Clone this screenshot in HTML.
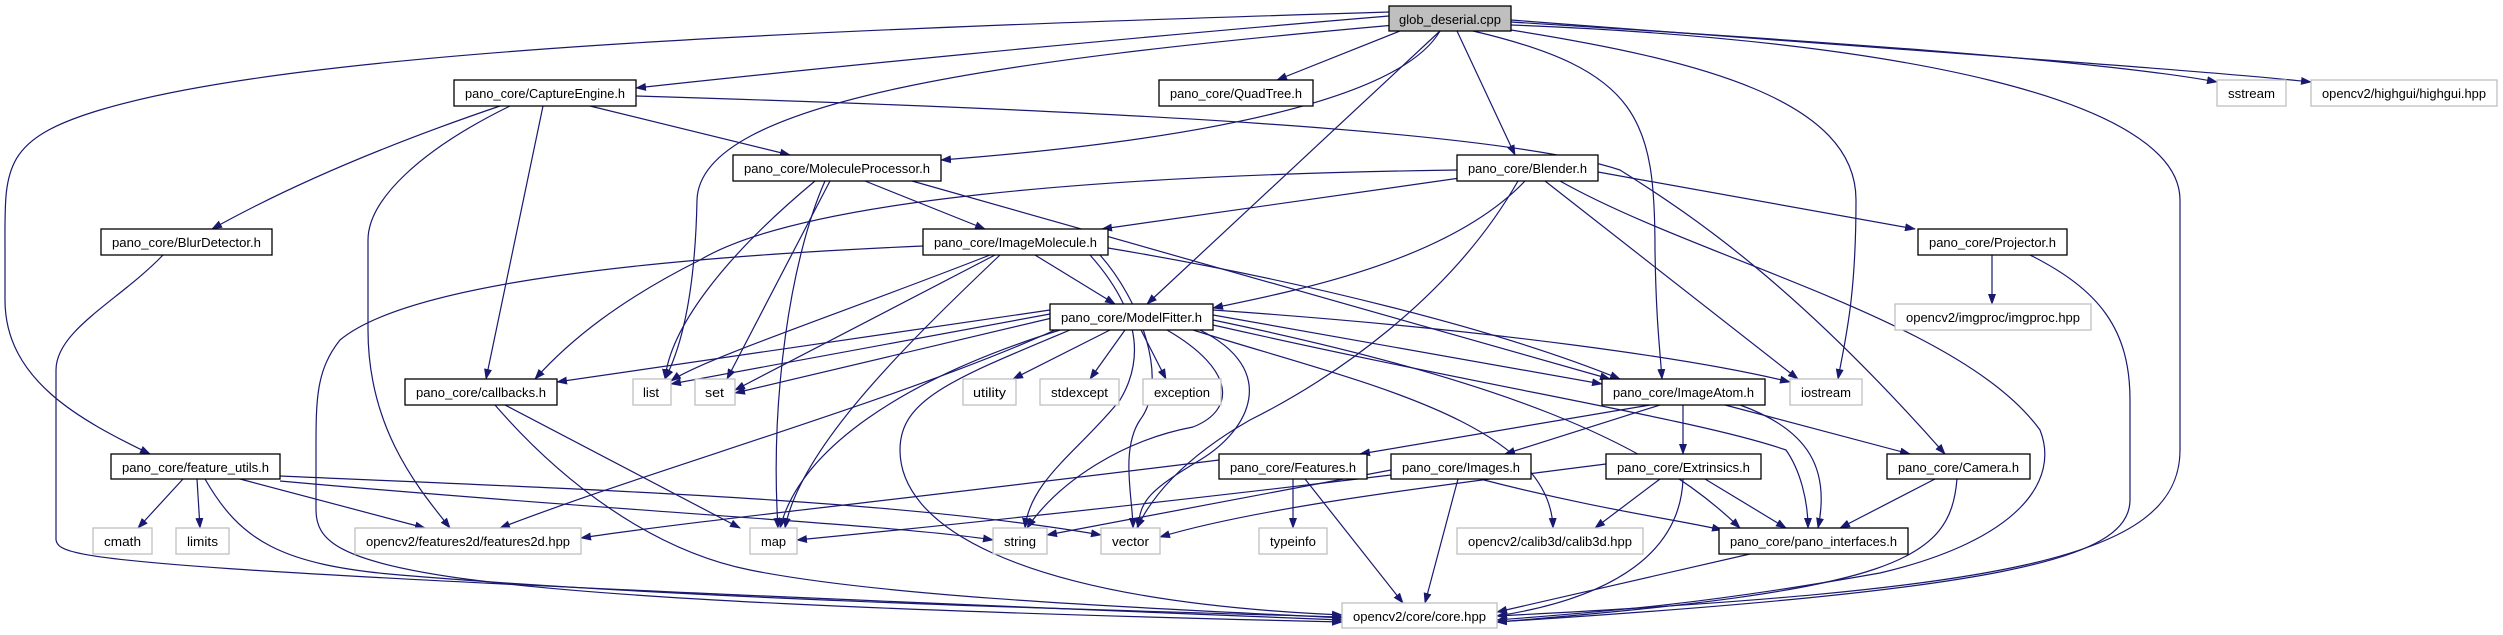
<!DOCTYPE html>
<html><head><meta charset="utf-8"><style>
html,body{margin:0;padding:0;background:#fff}
svg{display:block}
text{font-family:"Liberation Sans",sans-serif;font-size:13px;fill:#000}
.e{fill:none;stroke:#191970;stroke-width:1.2}
.n{fill:#fff;stroke:#000;stroke-width:1.3}
.g{fill:#fff;stroke:#bfbfbf;stroke-width:1.3}
</style></head><body>
<svg width="2503" height="635" viewBox="0 0 2503 635" xmlns="http://www.w3.org/2000/svg">
<defs><marker id="a" markerUnits="userSpaceOnUse" markerWidth="11" markerHeight="8" refX="10" refY="4" orient="auto"><path d="M0,0 L11,4 L0,8 z" fill="#191970"/></marker></defs>
<g class="e" marker-end="url(#a)">
<path d="M1389,16 C1100,40 800,70 636,88"/>
<path d="M1400,31 L1277,80"/>
<path d="M1440,31 C1400,100 1200,140 941,160"/>
<path d="M1395,25 C1000,60 700,100 697,200 C695,300 680,350 665,379"/>
<path d="M1440,31 L1147,304"/>
<path d="M1457,31 L1515,155"/>
<path d="M1473,31 C1640,70 1655,120 1655,250 C1656,320 1660,350 1662,379"/>
<path d="M1511,30 C1700,60 1856,100 1856,200 C1856,300 1845,340 1838,379"/>
<path d="M1511,25 C1900,40 2180,100 2180,200 L2180,450 C2180,560 2000,590 1497,616"/>
<path d="M1511,22 C1800,40 2100,60 2217,82"/>
<path d="M1511,20 C1900,50 2200,70 2311,82"/>
<path d="M1389,12 C800,30 300,50 100,110 C0,140 5,170 5,250 L5,300 C5,380 80,420 150,454"/>
<path d="M163,255 C120,300 56,330 56,370 L56,540 C60,560 90,570 1342,620"/>
<path d="M500,106 C400,140 300,180 212,229"/>
<path d="M510,106 C420,150 368,200 368,240 L368,330 C368,430 420,490 450,528"/>
<path d="M543,106 L486,379"/>
<path d="M590,106 L790,155"/>
<path d="M636,96 C1100,110 1500,130 1620,170 C1700,220 1800,290 1945,454"/>
<path d="M865,181 L985,229"/>
<path d="M815,181 C720,260 670,330 665,379"/>
<path d="M830,181 L727,379"/>
<path d="M825,181 C790,260 770,400 778,528"/>
<path d="M912,181 L1610,379"/>
<path d="M1460,178 L1102,229"/>
<path d="M1457,170 C1100,175 800,200 700,260 C620,300 570,340 535,379"/>
<path d="M1525,181 C1450,260 1300,290 1213,308"/>
<path d="M1518,181 C1450,300 1330,380 1250,420 C1180,460 1150,500 1137,528"/>
<path d="M1598,172 L1915,229"/>
<path d="M1545,181 L1798,379"/>
<path d="M1560,181 C1700,260 1960,320 2040,430 C2060,480 2020,540 1880,573 C1700,605 1600,612 1497,620"/>
<path d="M1992,255 L1992,304"/>
<path d="M2030,255 C2100,290 2130,330 2130,400 L2130,500 C2130,560 2000,590 1497,622"/>
<path d="M1035,255 L1115,304"/>
<path d="M990,255 C850,310 700,360 671,381"/>
<path d="M995,255 L735,390"/>
<path d="M1000,255 C900,350 800,450 785,528"/>
<path d="M1090,255 C1130,300 1150,350 1120,400 C1080,450 1030,480 1025,528"/>
<path d="M1100,255 C1140,300 1170,380 1140,420 C1120,450 1133,500 1133,528"/>
<path d="M1108,248 C1300,280 1500,330 1620,379"/>
<path d="M923,246 C600,260 400,290 340,340 C316,370 316,400 316,450 L316,510 C316,570 400,600 1342,622"/>
<path d="M1050,310 L557,382"/>
<path d="M1050,314 L671,384"/>
<path d="M1052,318 L735,393"/>
<path d="M1110,330 L1013,379"/>
<path d="M1125,330 L1090,379"/>
<path d="M1141,330 L1166,379"/>
<path d="M1167,330 C1236,370 1236,410 1193,427 C1124,440 1060,480 1027,528"/>
<path d="M1200,330 C1280,370 1250,430 1200,460 C1150,490 1140,500 1138,528"/>
<path d="M1060,330 C900,380 800,450 780,528"/>
<path d="M1070,330 C950,380 900,400 900,450 C900,520 1000,600 1342,615"/>
<path d="M1055,330 C900,400 650,470 500,528"/>
<path d="M1193,330 C1350,380 1550,420 1553,528"/>
<path d="M1213,315 L1602,384"/>
<path d="M1213,310 C1500,330 1700,360 1790,382"/>
<path d="M1213,320 C1500,380 1650,440 1740,528"/>
<path d="M1213,325 C1500,390 1700,420 1786,450 C1800,470 1808,500 1808,528"/>
<path d="M505,405 L740,528"/>
<path d="M495,405 C560,480 650,550 750,570 C900,600 1200,610 1342,618"/>
<path d="M183,479 L138,528"/>
<path d="M197,479 L200,528"/>
<path d="M240,479 L425,528"/>
<path d="M280,476 C600,490 900,500 1101,535"/>
<path d="M280,481 C600,510 900,525 993,540"/>
<path d="M205,479 C240,540 280,565 400,575 C700,600 1100,610 1342,617"/>
<path d="M1650,405 L1360,454"/>
<path d="M1660,405 L1505,454"/>
<path d="M1683,405 L1683,454"/>
<path d="M1725,405 L1910,454"/>
<path d="M1740,405 C1810,430 1830,470 1818,528"/>
<path d="M1219,460 C900,500 700,520 581,538"/>
<path d="M1293,479 L1293,528"/>
<path d="M1305,479 L1403,603"/>
<path d="M1391,470 L1047,535"/>
<path d="M1391,475 C1100,510 900,530 797,540"/>
<path d="M1458,479 L1425,603"/>
<path d="M1480,479 C1600,510 1680,520 1722,530"/>
<path d="M1606,464 C1400,490 1250,510 1160,537"/>
<path d="M1660,479 L1595,528"/>
<path d="M1683,479 C1680,560 1600,600 1497,616"/>
<path d="M1705,479 L1786,528"/>
<path d="M1935,479 L1840,528"/>
<path d="M1957,479 C1950,560 1900,590 1497,622"/>
<path d="M1750,554 L1497,612"/>
</g>
<g>
<rect x="1389" y="6" width="122" height="25" fill="#bfbfbf" stroke="#000" stroke-width="1.3"/><text x="1399" y="24" textLength="102" lengthAdjust="spacingAndGlyphs">glob_deserial.cpp</text>
<rect class="n" x="454" y="80" width="182" height="26"/><text x="465" y="98" textLength="160" lengthAdjust="spacingAndGlyphs">pano_core/CaptureEngine.h</text>
<rect class="n" x="1159" y="80" width="154" height="26"/><text x="1170" y="98" textLength="132" lengthAdjust="spacingAndGlyphs">pano_core/QuadTree.h</text>
<rect class="g" x="2217" y="80" width="69" height="26"/><text x="2228" y="98" textLength="47" lengthAdjust="spacingAndGlyphs">sstream</text>
<rect class="g" x="2311" y="80" width="186" height="26"/><text x="2322" y="98" textLength="164" lengthAdjust="spacingAndGlyphs">opencv2/highgui/highgui.hpp</text>
<rect class="n" x="733" y="155" width="208" height="26"/><text x="744" y="173" textLength="186" lengthAdjust="spacingAndGlyphs">pano_core/MoleculeProcessor.h</text>
<rect class="n" x="1457" y="155" width="141" height="26"/><text x="1468" y="173" textLength="119" lengthAdjust="spacingAndGlyphs">pano_core/Blender.h</text>
<rect class="n" x="101" y="229" width="171" height="26"/><text x="112" y="247" textLength="149" lengthAdjust="spacingAndGlyphs">pano_core/BlurDetector.h</text>
<rect class="n" x="923" y="229" width="185" height="26"/><text x="934" y="247" textLength="163" lengthAdjust="spacingAndGlyphs">pano_core/ImageMolecule.h</text>
<rect class="n" x="1918" y="229" width="149" height="26"/><text x="1929" y="247" textLength="127" lengthAdjust="spacingAndGlyphs">pano_core/Projector.h</text>
<rect class="n" x="1050" y="304" width="163" height="26"/><text x="1061" y="322" textLength="141" lengthAdjust="spacingAndGlyphs">pano_core/ModelFitter.h</text>
<rect class="g" x="1895" y="304" width="196" height="26"/><text x="1906" y="322" textLength="174" lengthAdjust="spacingAndGlyphs">opencv2/imgproc/imgproc.hpp</text>
<rect class="n" x="405" y="379" width="152" height="26"/><text x="416" y="397" textLength="130" lengthAdjust="spacingAndGlyphs">pano_core/callbacks.h</text>
<rect class="g" x="633" y="379" width="38" height="26"/><text x="643" y="397" textLength="16" lengthAdjust="spacingAndGlyphs">list</text>
<rect class="g" x="695" y="379" width="40" height="26"/><text x="705" y="397" textLength="19" lengthAdjust="spacingAndGlyphs">set</text>
<rect class="g" x="963" y="379" width="53" height="26"/><text x="973" y="397" textLength="33" lengthAdjust="spacingAndGlyphs">utility</text>
<rect class="g" x="1040" y="379" width="79" height="26"/><text x="1051" y="397" textLength="57" lengthAdjust="spacingAndGlyphs">stdexcept</text>
<rect class="g" x="1143" y="379" width="78" height="26"/><text x="1154" y="397" textLength="56" lengthAdjust="spacingAndGlyphs">exception</text>
<rect class="n" x="1602" y="379" width="163" height="26"/><text x="1613" y="397" textLength="141" lengthAdjust="spacingAndGlyphs">pano_core/ImageAtom.h</text>
<rect class="g" x="1790" y="379" width="72" height="26"/><text x="1801" y="397" textLength="50" lengthAdjust="spacingAndGlyphs">iostream</text>
<rect class="n" x="111" y="454" width="169" height="25"/><text x="122" y="472" textLength="147" lengthAdjust="spacingAndGlyphs">pano_core/feature_utils.h</text>
<rect class="n" x="1219" y="454" width="148" height="25"/><text x="1230" y="472" textLength="126" lengthAdjust="spacingAndGlyphs">pano_core/Features.h</text>
<rect class="n" x="1391" y="454" width="140" height="25"/><text x="1402" y="472" textLength="118" lengthAdjust="spacingAndGlyphs">pano_core/Images.h</text>
<rect class="n" x="1606" y="454" width="155" height="25"/><text x="1617" y="472" textLength="133" lengthAdjust="spacingAndGlyphs">pano_core/Extrinsics.h</text>
<rect class="n" x="1887" y="454" width="143" height="25"/><text x="1898" y="472" textLength="121" lengthAdjust="spacingAndGlyphs">pano_core/Camera.h</text>
<rect class="g" x="93" y="528" width="59" height="26"/><text x="104" y="546" textLength="37" lengthAdjust="spacingAndGlyphs">cmath</text>
<rect class="g" x="176" y="528" width="53" height="26"/><text x="187" y="546" textLength="31" lengthAdjust="spacingAndGlyphs">limits</text>
<rect class="g" x="355" y="528" width="226" height="26"/><text x="366" y="546" textLength="204" lengthAdjust="spacingAndGlyphs">opencv2/features2d/features2d.hpp</text>
<rect class="g" x="750" y="528" width="47" height="26"/><text x="761" y="546" textLength="25" lengthAdjust="spacingAndGlyphs">map</text>
<rect class="g" x="993" y="528" width="54" height="26"/><text x="1004" y="546" textLength="32" lengthAdjust="spacingAndGlyphs">string</text>
<rect class="g" x="1101" y="528" width="59" height="26"/><text x="1112" y="546" textLength="37" lengthAdjust="spacingAndGlyphs">vector</text>
<rect class="g" x="1259" y="528" width="68" height="26"/><text x="1270" y="546" textLength="46" lengthAdjust="spacingAndGlyphs">typeinfo</text>
<rect class="g" x="1457" y="528" width="186" height="26"/><text x="1468" y="546" textLength="164" lengthAdjust="spacingAndGlyphs">opencv2/calib3d/calib3d.hpp</text>
<rect class="n" x="1719" y="528" width="189" height="26"/><text x="1730" y="546" textLength="167" lengthAdjust="spacingAndGlyphs">pano_core/pano_interfaces.h</text>
<rect class="g" x="1342" y="603" width="155" height="25"/><text x="1353" y="621" textLength="133" lengthAdjust="spacingAndGlyphs">opencv2/core/core.hpp</text>
</g>
</svg>
</body></html>
